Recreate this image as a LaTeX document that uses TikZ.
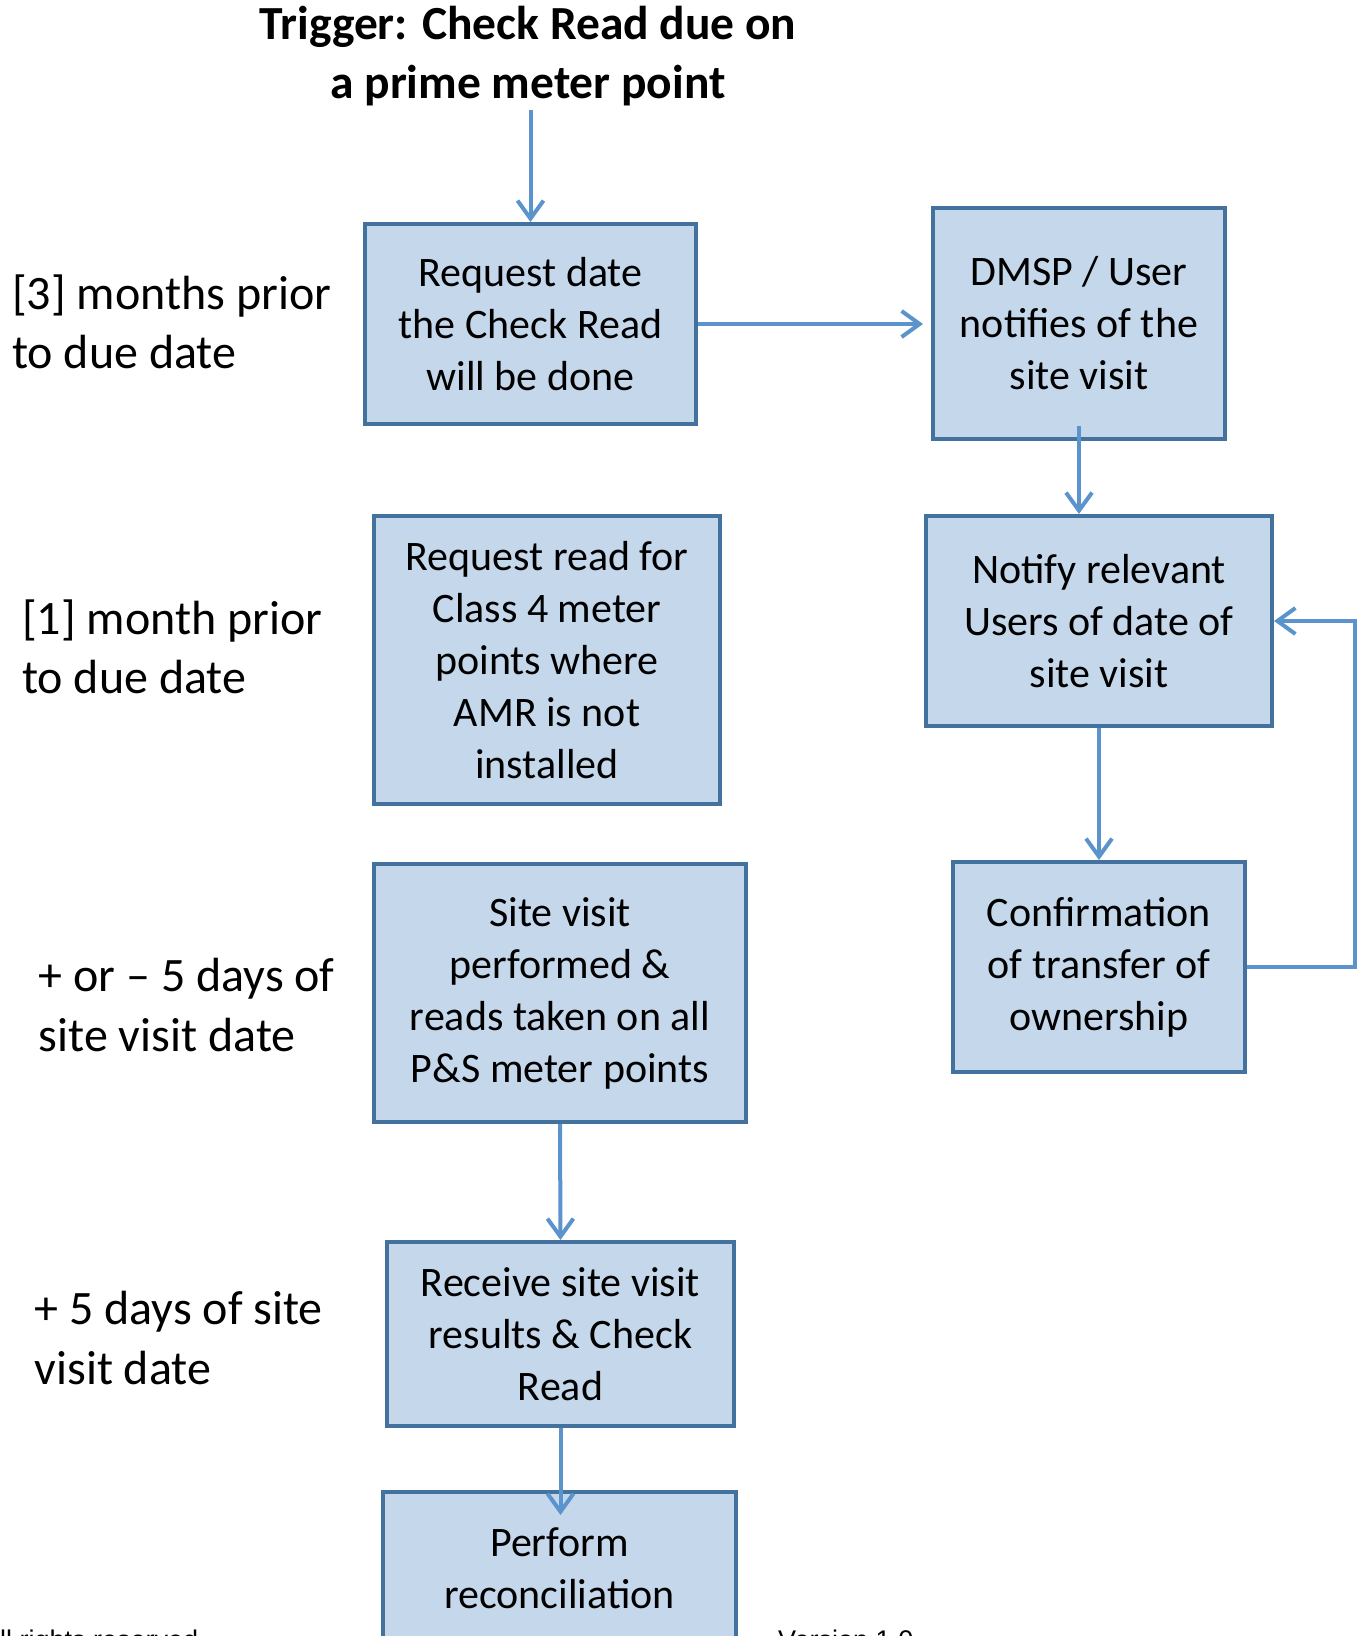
\documentclass[tikz,border=0pt]{standalone}
\usepackage{fontspec}
\setmainfont{Carlito}
\newfontfamily\footfont{Liberation Sans}
\usetikzlibrary{arrows.meta}
\definecolor{boxfill}{HTML}{C5D7EB}
\definecolor{boxline}{HTML}{44729E}
\definecolor{arrcol}{HTML}{5B93CD}
\tikzset{
  stepbox/.style={draw=boxline, fill=boxfill, line width=4pt, rectangle, inner sep=0pt,
    align=center, font=\fontsize{42}{52}\selectfont},
  lbl/.style={anchor=west, align=left, inner sep=0pt, font=\fontsize{48}{59.5}\selectfont},
  arr/.style={draw=arrcol, line width=4pt, -{Straight Barb[length=18pt,width=26pt]}},
  foot/.style={anchor=base west, inner sep=0pt, font=\footfont\fontsize{27}{32}\selectfont}
}
\begin{document}
\begin{tikzpicture}[x=1pt,y=-1pt]
\useasboundingbox (0,0) rectangle (1361,1636);
\node[align=center, inner sep=0pt, font=\fontsize{47.5}{59.5}\selectfont\bfseries] (title) at (528,56)
  {Trigger: Check Read due on\\a prime meter point};
\node[stepbox, minimum width=331pt, minimum height=200pt] (b1) at (530.5,324) {Request date\\the Check Read\\will be done};
\node[stepbox, minimum width=292pt, minimum height=231pt] (b2) at (1079,323.5) {DMSP / User\\notifies of the\\site visit};
\node[stepbox, minimum width=346pt, minimum height=288pt] (b3) at (547,660) {Request read for\\Class 4 meter\\points where\\AMR is not\\installed};
\node[stepbox, minimum width=346pt, minimum height=210pt] (b4) at (1099,621) {Notify relevant\\Users of date of\\site visit};
\node[stepbox, minimum width=292pt, minimum height=210pt] (b5) at (1099,967) {Confirmation\\of transfer of\\ownership};
\node[stepbox, minimum width=372pt, minimum height=258pt] (b6) at (560,993) {Site visit\\performed \&\\reads taken on all\\P\&S meter points};
\node[stepbox, minimum width=347pt, minimum height=184pt] (b7) at (560.5,1334) {Receive site visit\\results \& Check\\Read};
\node[stepbox, minimum width=353pt, minimum height=152pt] (b8) at (559.5,1568) {Perform\\reconciliation};

\node[lbl] (l1) at (12,322) {[3] months prior\\to due date};
\node[lbl] (l2) at (22,647) {[1] month prior\\to due date};
\node[lbl] (l3) at (38.6,1005) {+ or – 5 days of\\site visit date};
\node[lbl] (l4) at (34.4,1338) {+ 5 days of site\\visit date};

\node[foot] (f1) at (0,1649) {ll rights reserved};
\node[foot] (f2) at (778,1649) {Version 1.0};

\coordinate (tstart) at (530.5,110);
\coordinate (b8in) at (562,1515);
\draw[arr] (tstart) -- (b1.north);
\draw[arr, shorten >=8pt] (b1.east) -- (b1.east -| b2.west);
\draw[arr] (b2.south) ++(0,-15) -- (b2.south |- b4.north);
\draw[arr] (b4.south) -- (b5.north);
\draw[arr] (b5.east) -- ++(108,0) |- (b4.east);
\draw[arr] (b6.south) -- (b7.north);
\draw[arr] (b7.south) -- (b7.south |- b8in);
\end{tikzpicture}
\end{document}
